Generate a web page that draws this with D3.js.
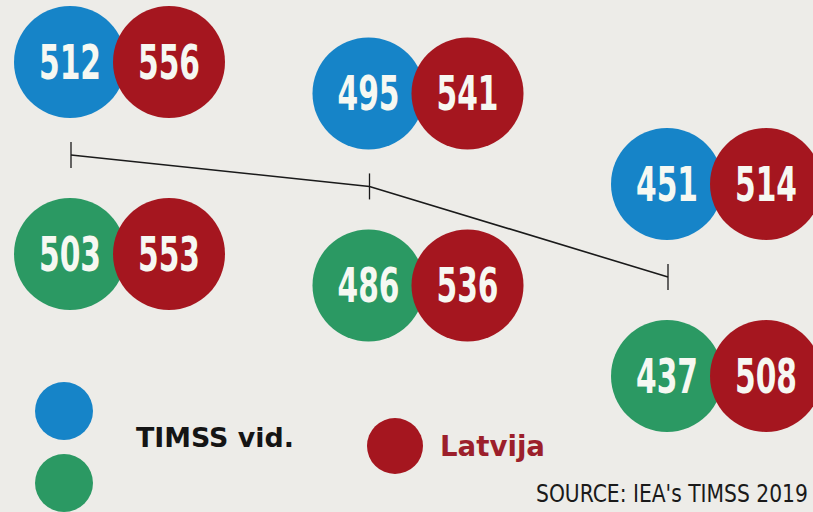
<!DOCTYPE html>
<html>
<head>
<meta charset="utf-8">
<script src="https://cdn.jsdelivr.net/npm/d3@7"></script>
<style>
	html, body { margin: 0; padding: 0; background: #edece8; }
	svg { display: block; }
</style>
</head>
<body>
<div id="chart"></div>
<script>
// data
var groups = ["g1", "g2", "g3"];
var timssTop = [512, 495, 451];      // blue
var latviaTop = [556, 541, 514];
var timssBottom = [503, 486, 437];   // green
var latviaBottom = [553, 536, 508];
var legendLabels = ["TIMSS vid.", "Latvija"];
var sourceText = "SOURCE: IEA's TIMSS 2019";

var width = 813, height = 512;
var colors = {
	bg: "#edece8",
	blue: "#1684c8",
	green: "#2b9963",
	red: "#a5161f",
	redText: "#9c1f2b",
	line: "#1a1a1a"
};
var R = 56;
var pairGap = 99;
var numFont = "'DejaVu Sans Condensed', 'DejaVu Sans', sans-serif";

var svg = d3.select("#chart")
	.append("svg")
	.attr("width", width)
	.attr("height", height);

svg.append("rect")
	.attr("width", width)
	.attr("height", height)
	.attr("fill", colors.bg);

var x = d3.scalePoint()
	.domain(groups)
	.range([70, 667]);

// trend line follows the TIMSS average (lower row)
var y = d3.scaleLinear()
	.domain([437, 503])
	.range([277, 155]);

var rows = groups.map(function (g, i) {
	return {
		g: g,
		top: timssTop[i],
		topLv: latviaTop[i],
		bottom: timssBottom[i],
		bottomLv: latviaBottom[i],
		ly: y(timssBottom[i])
	};
});

// fit a text horizontally to a target width (no condensed font here)
function squeeze(sel, px, py, targetWidth, anchor) {
	var w = sel.node().getComputedTextLength();
	var sx = targetWidth / w;
	sel.attr("text-anchor", anchor || "start")
		.attr("transform", "translate(" + px + "," + py + ") scale(" + sx + ",1)");
	return sel;
}

// line with small ticks
var line = d3.line()
	.x(function (d) { return x(d.g) + 1; })
	.y(function (d) { return d.ly; });

svg.append("path")
	.datum(rows)
	.attr("d", line)
	.attr("fill", "none")
	.attr("stroke", colors.line)
	.attr("stroke-width", 1.6);

svg.selectAll("line.tick")
	.data(rows)
	.enter()
	.append("line")
	.attr("class", "tick")
	.attr("x1", function (d) { return x(d.g) + 1; })
	.attr("x2", function (d) { return x(d.g) + 1; })
	.attr("y1", function (d) { return d.ly - 13; })
	.attr("y2", function (d) { return d.ly + 13; })
	.attr("stroke", colors.line)
	.attr("stroke-width", 1.3);

function bubble(cx, cy, value, fill) {
	svg.append("circle")
		.attr("cx", cx)
		.attr("cy", cy)
		.attr("r", R)
		.attr("fill", fill);
	var t = svg.append("text")
		.attr("font-family", numFont)
		.attr("font-weight", "bold")
		.attr("font-size", 48)
		.attr("fill", "#f6f8f2")
		.text(value);
	squeeze(t, cx, cy + 17, 62, "middle");
}

rows.forEach(function (d) {
	var cx = x(d.g);
	var topY = d.ly - 93;
	var botY = d.ly + 99;
	bubble(cx, topY, d.top, colors.blue);
	bubble(cx + pairGap, topY, d.topLv, colors.red);
	bubble(cx, botY, d.bottom, colors.green);
	bubble(cx + pairGap, botY, d.bottomLv, colors.red);
});

// legend
svg.append("circle").attr("cx", 64).attr("cy", 411).attr("r", 29).attr("fill", colors.blue);
svg.append("circle").attr("cx", 64).attr("cy", 483).attr("r", 29).attr("fill", colors.green);
svg.append("circle").attr("cx", 395).attr("cy", 446).attr("r", 28).attr("fill", colors.red);

var l1 = svg.append("text")
	.attr("font-family", numFont)
	.attr("font-weight", "bold")
	.attr("font-size", 27)
	.attr("fill", "#151515")
	.text(legendLabels[0]);
squeeze(l1, 136, 447, 158);

var l2 = svg.append("text")
	.attr("font-family", numFont)
	.attr("font-weight", "bold")
	.attr("font-size", 29)
	.attr("fill", colors.redText)
	.text(legendLabels[1]);
squeeze(l2, 440, 456, 105);

var src = svg.append("text")
	.attr("font-family", numFont)
	.attr("font-size", 24)
	.attr("fill", "#1a1a1a")
	.text(sourceText);
squeeze(src, 536, 502, 272);
</script>
</body>
</html>
